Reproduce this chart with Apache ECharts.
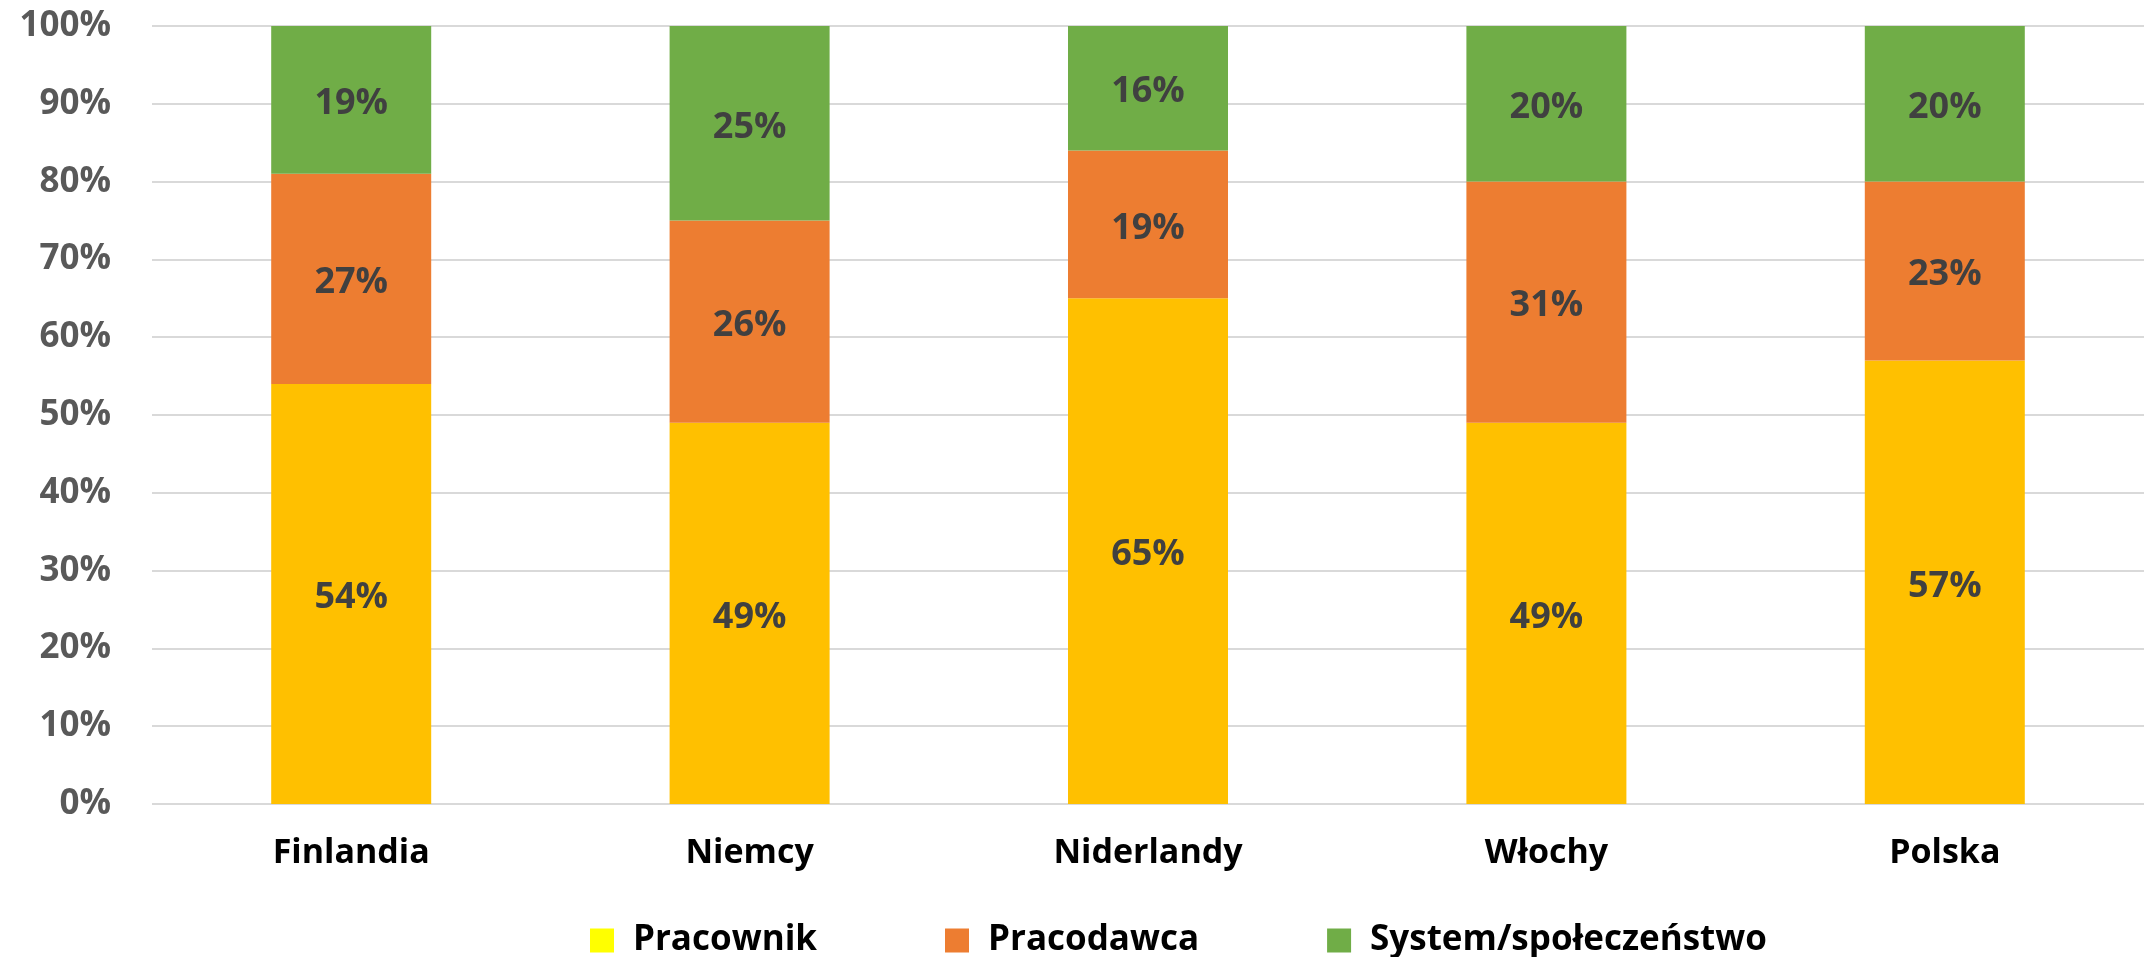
<!DOCTYPE html>
<html>
<head>
<meta charset="utf-8">
<script src="https://cdn.jsdelivr.net/npm/echarts@6/dist/echarts.min.js"></script>
<style>
html,body{margin:0;padding:0;background:#fff;}
#chart{width:2144px;height:957px;}
</style>
</head>
<body>
<div id="chart"></div>
<script>
const categories = ['Finlandia', 'Niemcy', 'Niderlandy', 'Włochy', 'Polska'];
const pracownik = [54, 49, 65, 49, 57];
const pracodawca = [27, 26, 19, 31, 23];
const system = [19, 25, 16, 20, 20];
const seriesNames = ['Pracownik', 'Pracodawca', 'System/społeczeństwo'];

const FONT = '"Open Sans", "DejaVu Sans", sans-serif';
const labelCfg = {
  show: true,
  position: 'inside',
  offset: [0, 4],
  formatter: p => p.value + '%',
  color: '#404040',
  fontFamily: FONT,
  fontWeight: 'bold',
  fontSize: 36
};
function mk(name, data, color) {
  return {
    name: name, type: 'bar', stack: 'total', data: data,
    barWidth: 160,
    itemStyle: { color: color },
    label: labelCfg,
    emphasis: { disabled: true }
  };
}
const chart = echarts.init(document.getElementById('chart'));
chart.setOption({
  animation: false,
  backgroundColor: '#fff',
  grid: { left: 152, right: 0, top: 26, bottom: 153, containLabel: false },
  legend: {
    top: 923,
    left: 590,
    padding: 0,
    itemWidth: 24,
    itemHeight: 24,
    itemGap: 128,
    icon: 'rect',
    textStyle: { fontFamily: FONT, fontWeight: 'bold', fontSize: 35, color: '#000', padding: [10, 0, 0, 14] },
    data: [
      { name: seriesNames[0], itemStyle: { color: '#FFFF00' } },
      { name: seriesNames[1] },
      { name: seriesNames[2] }
    ]
  },
  xAxis: {
    type: 'category',
    data: categories,
    axisLine: { show: false },
    axisTick: { show: false },
    axisLabel: { fontFamily: FONT, fontWeight: 'bold', fontSize: 34, color: '#000', margin: 32 }
  },
  yAxis: {
    type: 'value',
    min: 0, max: 100, interval: 10,
    axisLabel: { formatter: '{value}%', fontFamily: FONT, fontWeight: 'bold', fontSize: 35, color: '#595959', margin: 41 },
    splitLine: { lineStyle: { color: '#d9d9d9', width: 2 } },
    axisLine: { show: false },
    axisTick: { show: false }
  },
  series: [
    mk(seriesNames[0], pracownik, '#FFC000'),
    mk(seriesNames[1], pracodawca, '#ED7D31'),
    mk(seriesNames[2], system, '#70AD47')
  ]
});
</script>
</body>
</html>
